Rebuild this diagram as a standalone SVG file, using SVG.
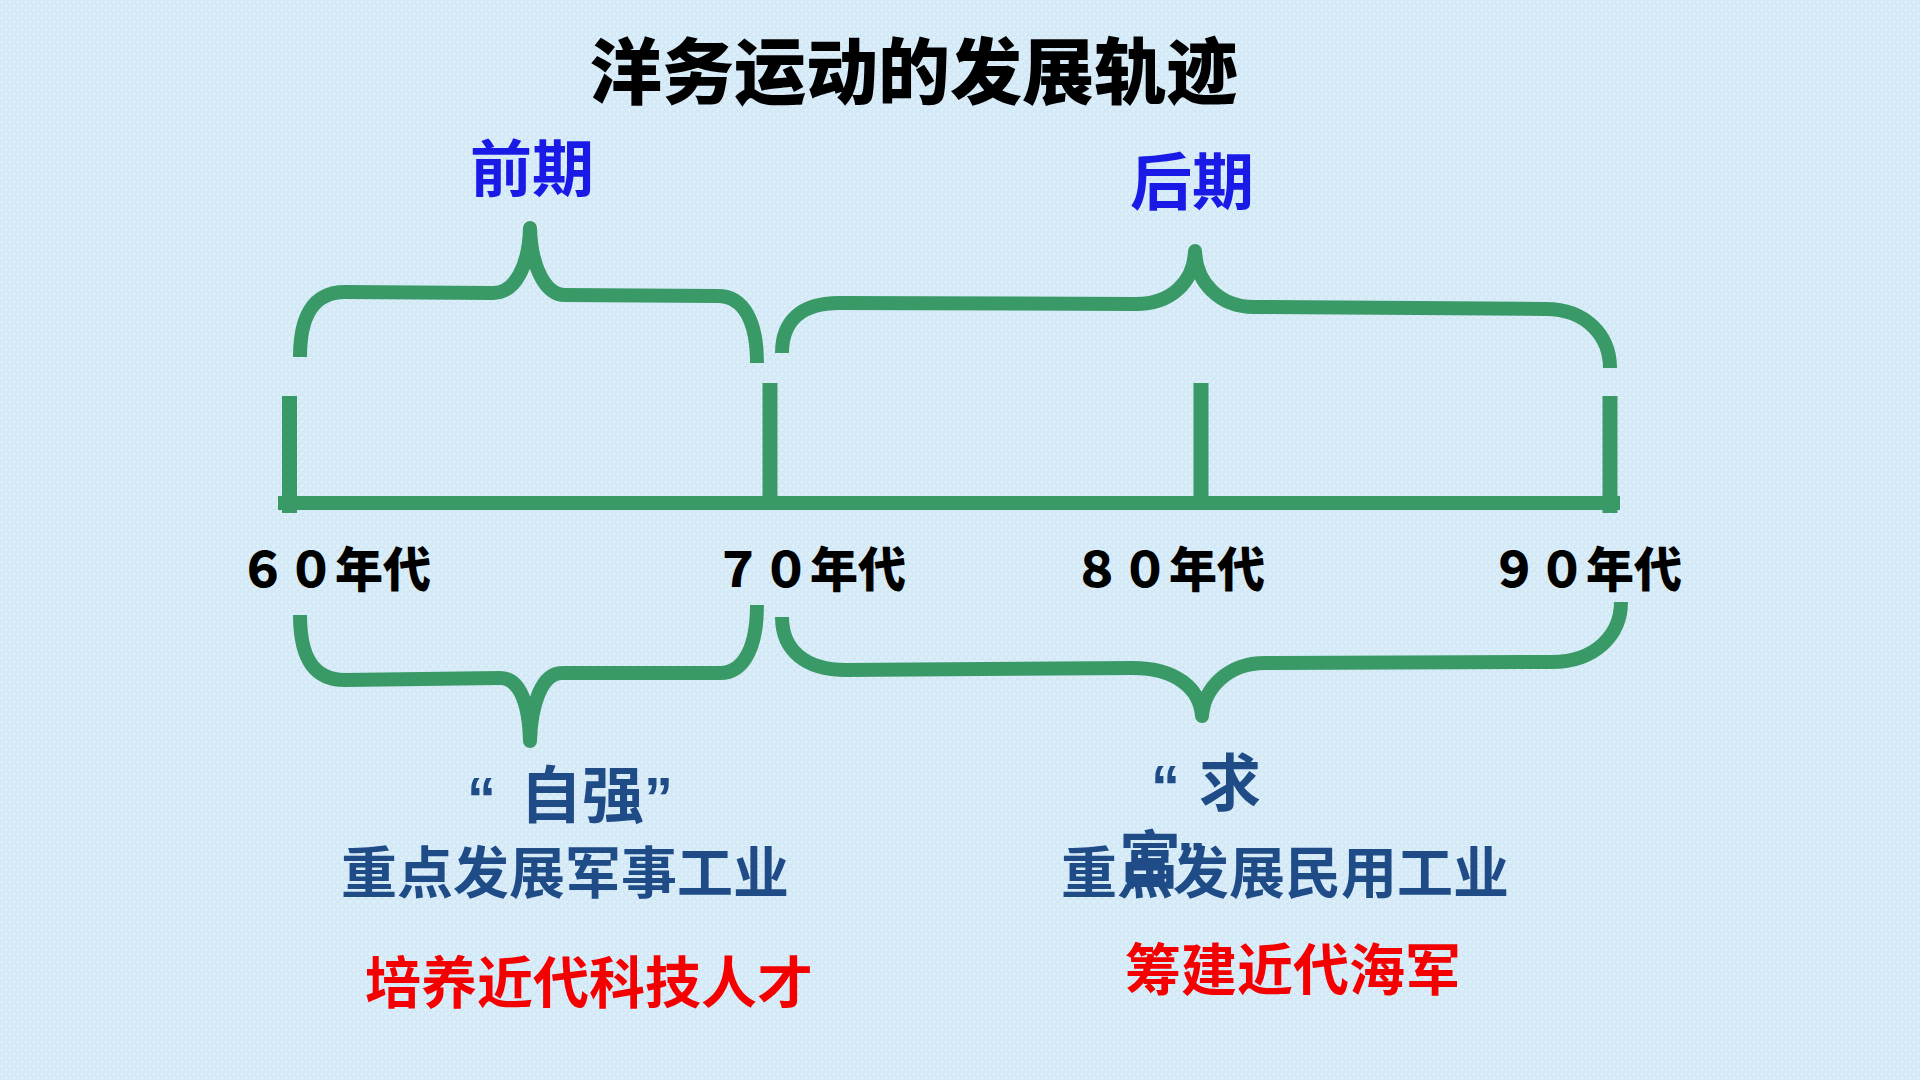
<svg xmlns="http://www.w3.org/2000/svg" width="1920" height="1080" viewBox="0 0 1920 1080">
  <defs>
    <pattern id="tex" width="8" height="8" patternUnits="userSpaceOnUse">
      <rect width="8" height="8" fill="#d3e9f6"/>
      <path d="M0,1.5h4M4,5.5h4M1.5,2v3M5.5,6v2M5.5,0v1" stroke="#e2f1fb" stroke-width="1.2" fill="none"/>
    </pattern>
    <style>
      .cjk { font-family: "Noto Sans CJK SC", "Noto Sans CJK TC", sans-serif; font-weight: 700; }
      .lat { font-family: "Liberation Sans", Arial, sans-serif; font-weight: 700; }
      .title { font-size: 72px; fill: #000000; font-weight: 900; }
      .period { font-size: 62px; fill: #1a1ae6; }
      .year { font-size: 48px; fill: #000000; font-weight: 900; }
      .aim { font-size: 62px; fill: #1f4b86; }
      .focus { font-size: 56px; fill: #1f4b86; }
      .red { font-size: 56px; fill: #f40000; }
      .brace { fill: none; stroke: #399a67; stroke-width: 14; stroke-linecap: butt; stroke-linejoin: round; }
      .axis { fill: none; stroke: #399a67; stroke-width: 14; stroke-linecap: butt; }
      .tick { fill: none; stroke: #399a67; stroke-width: 15; stroke-linecap: butt; }
    </style>
  </defs>

  <rect width="1920" height="1080" fill="url(#tex)"/>

  <g id="title">
    <text class="cjk title" x="914" y="98" text-anchor="middle">洋务运动的发展轨迹</text>
  </g>

  <g id="connectors">
    <line class="axis" x1="278" y1="503" x2="1620" y2="503"/>
    <line class="tick" x1="289.5" y1="396" x2="289.5" y2="513"/>
    <line class="tick" x1="770" y1="383" x2="770" y2="503"/>
    <line class="tick" x1="1201" y1="383" x2="1201" y2="503"/>
    <line class="tick" x1="1610" y1="396" x2="1610" y2="513"/>

    <path class="brace" d="M300,357 C300,318 312,292 345,292 L493,293 C515,293 529,266 530,228 C531,266 545,295 565,295 L718,296 C744,296 757,322 757,363"/>
    <path class="brace" d="M782,353 C782,322 800,303 839,303 L1136,304 C1170,304 1194,283 1195,251 C1196,283 1220,307 1254,307 L1546,309 C1585,309 1610,335 1610,368"/>
    <path class="brace" d="M300,615 C300,655 312,680 345,680 L500,678 C520,678 529,704 530,741 C531,704 542,673 562,673 L720,673 C745,673 757,645 757,605"/>
    <path class="brace" d="M782,617 C782,650 805,670 846,670 L1133,668 C1175,668 1200,688 1202,716 C1204,688 1228,663 1265,663 L1552,662 C1595,662 1621,635 1621,602"/>
  </g>

  <g id="period-early">
    <text class="cjk period" x="532" y="192" text-anchor="middle">前期</text>
  </g>
  <g id="period-late">
    <text class="cjk period" x="1192" y="205" text-anchor="middle">后期</text>
  </g>

  <g id="year-60"><text class="cjk year" x="335" y="587" text-anchor="middle">６０年代</text></g>
  <g id="year-70"><text class="cjk year" x="810" y="587" text-anchor="middle">７０年代</text></g>
  <g id="year-80"><text class="cjk year" x="1169" y="587" text-anchor="middle">８０年代</text></g>
  <g id="year-90"><text class="cjk year" x="1586" y="587" text-anchor="middle">９０年代</text></g>

  <g id="early-content">
    <text class="cjk aim" y="818"><tspan class="lat" x="467" font-size="58">“</tspan><tspan x="520">自强</tspan><tspan class="lat" x="644" font-size="58">”</tspan></text>
    <text class="cjk focus" x="565" y="893" text-anchor="middle">重点发展军事工业</text>
    <text class="cjk red" x="589" y="1003" text-anchor="middle">培养近代科技人才</text>
  </g>

  <g id="late-content">
    <text class="cjk aim" y="806"><tspan class="lat" x="1151" font-size="58">“</tspan><tspan x="1199">求</tspan></text>
    <text class="cjk aim" y="883"><tspan x="1119">富</tspan><tspan class="lat" x="1177" font-size="58">”</tspan></text>
    <text class="cjk focus" x="1285" y="893" text-anchor="middle">重点发展民用工业</text>
    <text class="cjk red" x="1293" y="990" text-anchor="middle">筹建近代海军</text>
  </g>
</svg>
